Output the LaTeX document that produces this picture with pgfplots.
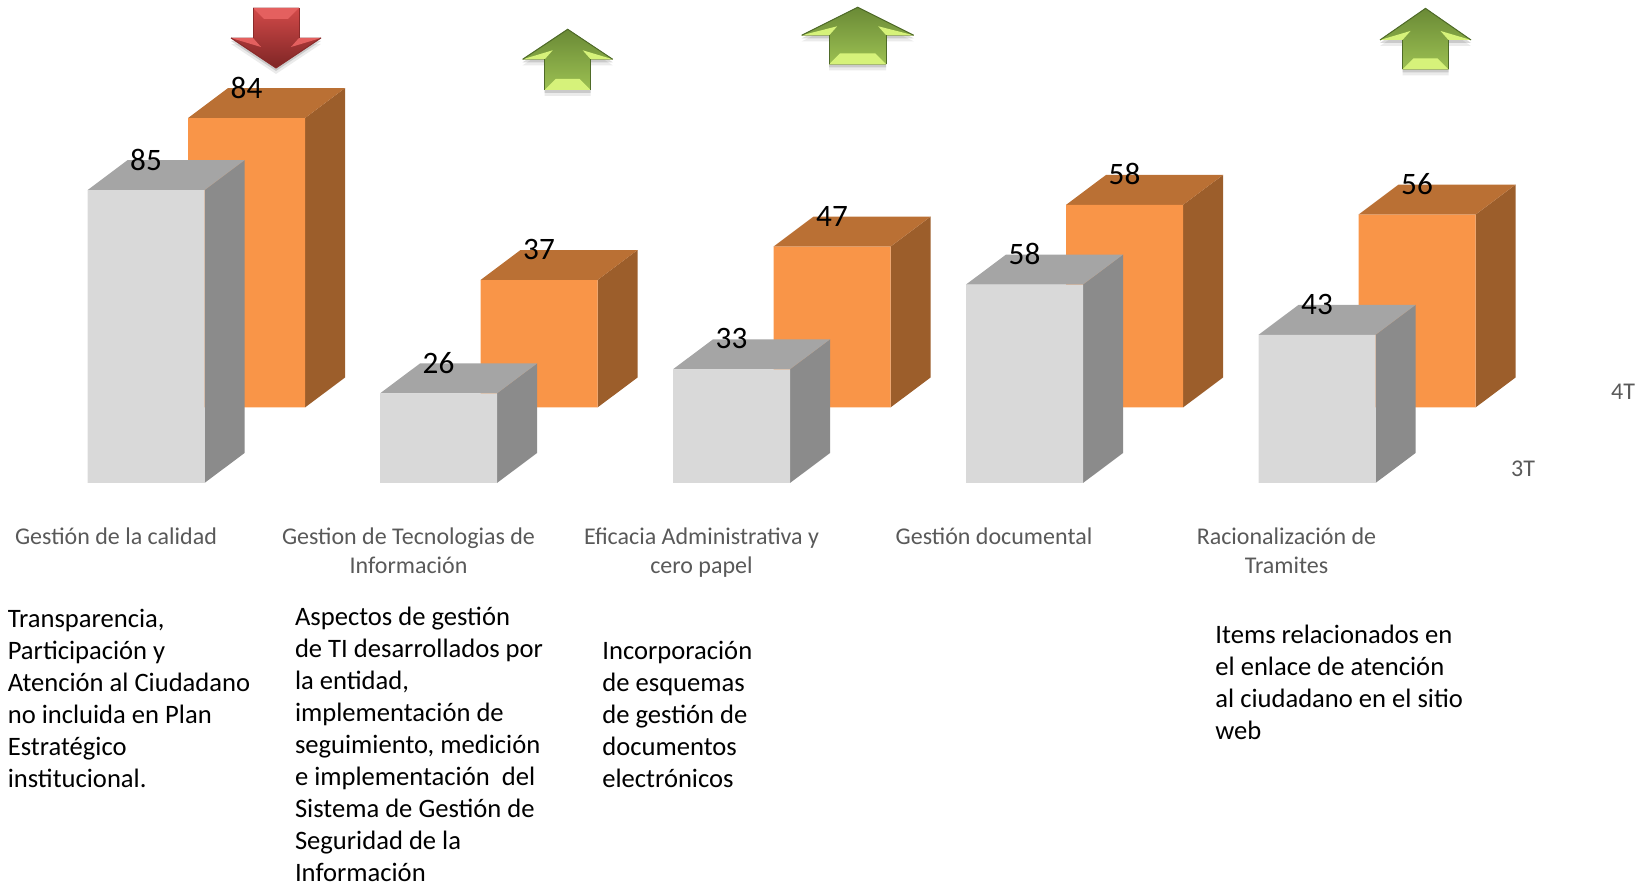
\documentclass[border=0pt]{standalone}
\usepackage{pgfplots}
\usepackage{pgfplotstable}
\usepackage{fontspec}
\setmainfont{Carlito}
\pgfplotsset{compat=1.18}
\definecolor{gfront}{HTML}{D9D9D9}
\definecolor{gside}{HTML}{8B8B8B}
\definecolor{gtop}{HTML}{A5A5A5}
\definecolor{ofront}{HTML}{F99548}
\definecolor{oside}{HTML}{9C5E2B}
\definecolor{otop}{HTML}{BA7034}
\definecolor{lblgray}{HTML}{595959}
\definecolor{vertop}{HTML}{6A8A36}
\definecolor{vermid}{HTML}{9ABF50}
\definecolor{verbot}{HTML}{9CC052}
\definecolor{verbev}{HTML}{D6F27A}
\definecolor{veredge}{HTML}{4F6B28}
\definecolor{rojtop}{HTML}{D24A49}
\definecolor{rojmid}{HTML}{BC3C3B}
\definecolor{rojbot}{HTML}{7E2525}
\definecolor{rojbev}{HTML}{E4605F}
\definecolor{rojedge}{HTML}{8A2A2A}
% x = left-to-right position (reference pixels), y = height as drawn, label = printed value
\pgfplotstableread{
x y label
146 85 85
438.5 26 26
731.5 33 33
1024.5 57.6 58
1317 43 43
}\grisdata
\pgfplotstableread{
x y label
246.5 84 84
539 37 37
832 46.7 47
1124.5 58.8 58
1417 56 56
}\naranjadata
\newcommand{\arrowpoly}[5]{(0,0) -- (#1,#3) -- (#2,#3) -- (#2,#4) -- (-#2,#4) -- (-#2,#3) -- (-#1,#3) -- cycle}
\newcommand{\arrowshape}[8]{%
% #1 cx #2 tip y #3 sign #4 half wing #5 half shaft #6 head height #7 total #8 colour scheme
\begin{scope}[shift={(#1,#2)}]
\fill[black,opacity=.08] [yshift=-3pt,yscale=#3] \arrowpoly{#4}{#5}{#6}{#7}{};
\fill[black,opacity=.14] [yshift=-1.5pt,yscale=#3] \arrowpoly{#4}{#5}{#6}{#7}{};
\begin{scope}[yscale=#3]
\fill[top color=#8top,middle color=#8mid,bottom color=#8bot] \arrowpoly{#4}{#5}{#6}{#7}{};
\fill[#8bev] (#5,#7) -- (#5-11,#7-11) -- (-#5+11,#7-11) -- (-#5,#7) -- cycle;
\fill[#8bev] (#4,#6) -- (#5,#6) -- (#5-8,#6-9) -- cycle;
\fill[#8bev] (-#4,#6) -- (-#5,#6) -- (-#5+8,#6-9) -- cycle;
\draw[#8edge,line width=.5pt] (-#4,#6) -- (0,0) -- (#4,#6);
\draw[#8edge,line width=.4pt] (-#5,#6) -- (-#5,#7);
\draw[#8edge,line width=.3pt] (#5,#6) -- (#5,#7);
\end{scope}
\end{scope}}
\begin{document}
\begin{tikzpicture}
\path[use as bounding box] (0,0) rectangle (825pt,443pt);
\pgfplotsset{valnode/.style={point meta=explicit symbolic,nodes near coords,
  every node near coord/.append style={font=\fontsize{15.6}{18}\selectfont,text=black,anchor=center,yshift=15.3pt,xshift=0pt}}}
% back series
\begin{axis}[
  at={(0pt,239.25pt)},anchor=south west,scale only axis,
  width=825pt,height=203.75pt,
  xmin=0,xmax=1650,ymin=0,ymax=118.28,
  hide axis,clip=false,
]
\addplot[fill=oside,draw=none] coordinates {(305,0)(345,8.7)(345,92.7)(305,84)} -- cycle;
\addplot[fill=otop,draw=none] coordinates {(188,84)(228,92.7)(345,92.7)(305,84)} -- cycle;
\addplot[fill=oside,draw=none] coordinates {(597.5,0)(637.5,8.7)(637.5,45.7)(597.5,37)} -- cycle;
\addplot[fill=otop,draw=none] coordinates {(480.5,37)(520.5,45.7)(637.5,45.7)(597.5,37)} -- cycle;
\addplot[fill=oside,draw=none] coordinates {(890.5,0)(930.5,8.7)(930.5,55.4)(890.5,46.7)} -- cycle;
\addplot[fill=otop,draw=none] coordinates {(773.5,46.7)(813.5,55.4)(930.5,55.4)(890.5,46.7)} -- cycle;
\addplot[fill=oside,draw=none] coordinates {(1183,0)(1223,8.7)(1223,67.5)(1183,58.8)} -- cycle;
\addplot[fill=otop,draw=none] coordinates {(1066,58.8)(1106,67.5)(1223,67.5)(1183,58.8)} -- cycle;
\addplot[fill=oside,draw=none] coordinates {(1475.5,0)(1515.5,8.7)(1515.5,64.7)(1475.5,56)} -- cycle;
\addplot[fill=otop,draw=none] coordinates {(1358.5,56)(1398.5,64.7)(1515.5,64.7)(1475.5,56)} -- cycle;
\addplot[ybar,bar width=58.5pt,bar shift=0pt,fill=ofront,draw=none,valnode]
  table[x=x,y=y,meta=label] {\naranjadata};
\end{axis}
% front series
\begin{axis}[
  at={(0pt,201.5pt)},anchor=south west,scale only axis,
  width=825pt,height=241.5pt,
  xmin=0,xmax=1650,ymin=0,ymax=140.2,
  clip=false,
  axis y line=none,
  axis x line=bottom,
  x axis line style={draw=none,-},
  xtick={116,408.5,701.5,994,1286.5},
  major tick length=0pt,
  xticklabels={Gestión de la calidad,Gestion de Tecnologias de\\Información,Eficacia Administrativa y\\cero papel,Gestión documental,Racionalización de\\Tramites},
  xticklabel style={font=\fontsize{12}{14.5}\selectfont,text=lblgray,align=center,yshift=-19pt,anchor=north},
]
\addplot[fill=gside,draw=none] coordinates {(204.5,0)(244.5,8.7)(244.5,93.7)(204.5,85)} -- cycle;
\addplot[fill=gtop,draw=none] coordinates {(87.5,85)(127.5,93.7)(244.5,93.7)(204.5,85)} -- cycle;
\addplot[fill=gside,draw=none] coordinates {(497,0)(537,8.7)(537,34.7)(497,26)} -- cycle;
\addplot[fill=gtop,draw=none] coordinates {(380,26)(420,34.7)(537,34.7)(497,26)} -- cycle;
\addplot[fill=gside,draw=none] coordinates {(790,0)(830,8.7)(830,41.7)(790,33)} -- cycle;
\addplot[fill=gtop,draw=none] coordinates {(673,33)(713,41.7)(830,41.7)(790,33)} -- cycle;
\addplot[fill=gside,draw=none] coordinates {(1083,0)(1123,8.7)(1123,66.3)(1083,57.6)} -- cycle;
\addplot[fill=gtop,draw=none] coordinates {(966,57.6)(1006,66.3)(1123,66.3)(1083,57.6)} -- cycle;
\addplot[fill=gside,draw=none] coordinates {(1375.5,0)(1415.5,8.7)(1415.5,51.7)(1375.5,43)} -- cycle;
\addplot[fill=gtop,draw=none] coordinates {(1258.5,43)(1298.5,51.7)(1415.5,51.7)(1375.5,43)} -- cycle;
\addplot[ybar,bar width=58.5pt,bar shift=0pt,fill=gfront,draw=none,valnode]
  table[x=x,y=y,meta=label] {\grisdata};
\end{axis}
\begin{scope}[x=0.5pt,y=-0.5pt,yshift=443pt]
\arrowshape{276}{68}{-1}{45}{23}{30}{60}{roj}
\arrowshape{567.7}{29.3}{1}{45}{23}{30}{60.7}{ver}
\arrowshape{857.7}{7.3}{1}{56}{28.5}{28}{57}{ver}
\arrowshape{1425.5}{8.4}{1}{45.5}{23}{31.6}{61}{ver}
\node[font=\fontsize{12}{14}\selectfont,text=lblgray] at (1523,469) {3T};
\node[font=\fontsize{12}{14}\selectfont,text=lblgray] at (1623,392) {4T};
\tikzset{para/.style={font=\fontsize{13.3}{16}\selectfont,align=left,anchor=north west,inner sep=0pt,text=black}}
\node[para] at (7.4,609) {Transparencia,\\Participación y\\Atención al Ciudadano\\no incluida en Plan\\Estratégico\\institucional.};
\node[para] at (294.6,607) {Aspectos de gestión\\de TI desarrollados por\\la entidad,\\implementación de\\seguimiento, medición\\e implementación~ del\\Sistema de Gestión de\\Seguridad de la\\Información};
\node[para] at (602,641) {Incorporación\\de esquemas\\de gestión de\\documentos\\electrónicos};
\node[para] at (1215,625) {Items relacionados en\\el enlace de atención\\al ciudadano en el sitio\\web};
\end{scope}
\end{tikzpicture}
\end{document}
